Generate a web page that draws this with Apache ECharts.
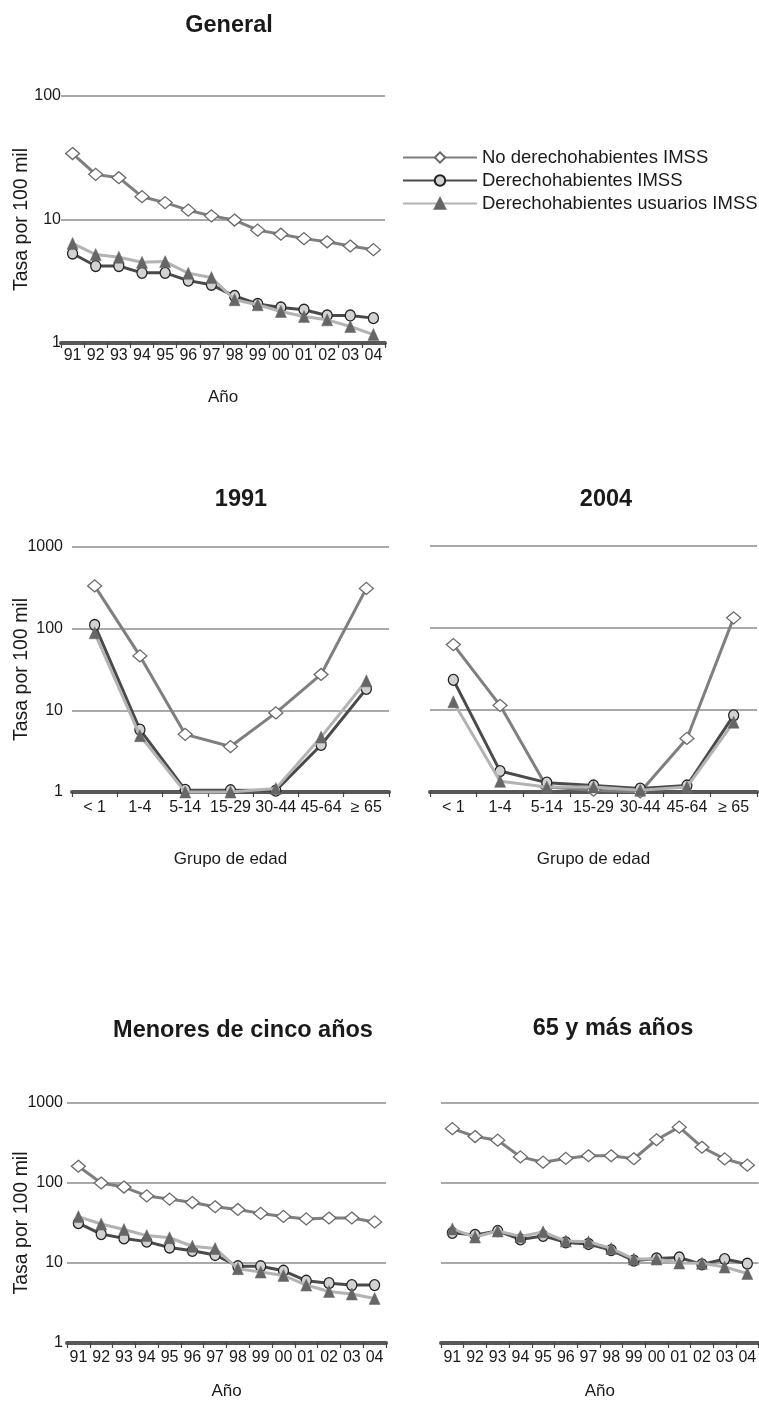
<!DOCTYPE html>
<html><head><meta charset="utf-8">
<script src="https://cdn.jsdelivr.net/npm/echarts@6/dist/echarts.min.js"></script>
<style>html,body{margin:0;padding:0;background:#fff}#c{width:759px;height:1401px}</style>
</head><body><div id="c"></div>
<script>
// ---------- DATA ----------
const seriesNames = ['No derechohabientes IMSS', 'Derechohabientes IMSS', 'Derechohabientes usuarios IMSS'];
const years = ['91','92','93','94','95','96','97','98','99','00','01','02','03','04'];
const ageGroups = ['< 1','1-4','5-14','15-29','30-44','45-64','\u2265 65'];

const generalNoDer   = [34.2, 23.2, 21.8, 15.3, 13.7, 11.9, 10.7, 9.9, 8.2, 7.6, 7.0, 6.6, 6.1, 5.7];
const generalDer     = [5.3, 4.2, 4.2, 3.7, 3.7, 3.2, 2.96, 2.4, 2.07, 1.94, 1.86, 1.67, 1.67, 1.59];
const generalUsu     = [6.4, 5.2, 4.95, 4.5, 4.56, 3.67, 3.39, 2.24, 2.04, 1.80, 1.64, 1.54, 1.36, 1.17];

const y1991NoDer     = [334, 46.4, 5.08, 3.6, 9.3, 27.5, 311];
const y1991Der       = [111, 5.8, 1.06, 1.05, 1.04, 3.77, 18.3];
const y1991Usu       = [89, 4.9, 1.0, 1.0, 1.1, 4.7, 23];

const y2004NoDer     = [62.8, 11.4, 1.15, 1.05, 1.0, 4.5, 133];
const y2004Der       = [23.3, 1.8, 1.3, 1.2, 1.1, 1.2, 8.6];
const y2004Usu       = [12.6, 1.35, 1.15, 1.15, 1.05, 1.15, 7.1];

const menoresNoDer   = [162, 100, 89, 69, 63, 57, 50.5, 46.7, 41.7, 38.2, 35.6, 36.5, 36.5, 32.6];
const menoresDer     = [31.5, 23, 20.3, 18.5, 15.6, 14.2, 12.6, 9.1, 9.1, 8.0, 6.0, 5.6, 5.3, 5.3];
const menoresUsu     = [38, 30.7, 26.2, 22, 20.7, 16.2, 15.2, 8.5, 7.7, 7.0, 5.3, 4.4, 4.1, 3.6];

const mayoresNoDer   = [478, 381, 343, 212, 182, 203, 219, 219, 201, 347, 499, 280, 200, 167];
const mayoresDer     = [23.8, 22.4, 25.1, 19.7, 21.8, 18.1, 17.3, 14.5, 10.7, 11.4, 11.7, 9.6, 11.2, 9.8];
const mayoresUsu     = [26.7, 21.1, 25.1, 21.5, 24.5, 18.8, 18.4, 15.2, 11.2, 11.2, 10.0, 9.9, 8.9, 7.4];

const panelTitles = ['General', '1991', '2004', 'Menores de cinco a\u00f1os', '65 y m\u00e1s a\u00f1os'];
const yAxisName = 'Tasa por 100 mil';
const xNameYear = 'A\u00f1o';
const xNameAge = 'Grupo de edad';

// ---------- LAYOUT ----------
const FONT = '"Liberation Sans", Arial, Helvetica, sans-serif';
const panels = [
  { title: panelTitles[0], tx: 224, ty: 9, grid: {left: 61, top: 96, width: 324, height: 247}, cats: years, data: [generalNoDer, generalDer, generalUsu], yMax: 100, yLabels: true, lblMargin: 0, nameGapY: 29, xName: xNameYear, xNameGap: 46, xLblMargin: 5 },
  { title: panelTitles[1], tx: 236, ty: 483, grid: {left: 72, top: 547, width: 317, height: 245}, cats: ageGroups, data: [y1991NoDer, y1991Der, y1991Usu], yMax: 1000, yLabels: true, lblMargin: 9, nameGapY: 40, xName: xNameAge, xNameGap: 59, xLblMargin: 8 },
  { title: panelTitles[2], tx: 601, ty: 483, grid: {left: 430, top: 546, width: 327, height: 246}, cats: ageGroups, data: [y2004NoDer, y2004Der, y2004Usu], yMax: 1000, yLabels: false, xName: xNameAge, xNameGap: 59, xLblMargin: 8 },
  { title: panelTitles[3], tx: 238, ty: 1014, grid: {left: 67, top: 1103, width: 319, height: 241}, cats: years, data: [menoresNoDer, menoresDer, menoresUsu], yMax: 1000, yLabels: true, lblMargin: 4, nameGapY: 35, xName: xNameYear, xNameGap: 40, xLblMargin: 7 },
  { title: panelTitles[4], tx: 608, ty: 1012, grid: {left: 441, top: 1103, width: 324, height: 241}, cats: years, data: [mayoresNoDer, mayoresDer, mayoresUsu], yMax: 1000, yLabels: false, xName: xNameYear, xNameGap: 40, xLblMargin: 7 }
];

const styles = [
  { color: '#7f7f7f', lineWidth: 3, symbol: 'diamond', symbolSize: [14, 12], item: {color: '#ffffff', borderColor: '#6a6a6a', borderWidth: 1.3} },
  { color: '#4a4a4a', lineWidth: 3, symbol: 'circle', symbolSize: [10, 11], item: {color: '#d2d2d2', borderColor: '#222222', borderWidth: 1.3} },
  { color: '#b3b3b3', lineWidth: 3, symbol: 'triangle', symbolSize: [11, 12], item: {color: '#666666', borderColor: '#666666', borderWidth: 0.5} }
];

const option = {
  animation: false,
  backgroundColor: '#ffffff',
  textStyle: { fontFamily: FONT },
  title: panels.map(p => ({
    text: p.title, left: p.tx, top: p.ty, textAlign: 'center',
    textStyle: { fontFamily: FONT, fontWeight: 'bold', fontSize: 23.5, color: '#1a1a1a' }
  })),
  legend: {
    left: 402, top: 148, orient: 'vertical', itemGap: 4, itemWidth: 74, itemHeight: 13, padding: 0,
    data: seriesNames,
    textStyle: { fontFamily: FONT, fontSize: 18.5, color: '#1a1a1a' }
  },
  grid: panels.map(p => Object.assign({ containLabel: false }, p.grid)),
  xAxis: panels.map((p, i) => ({
    type: 'category', gridIndex: i, data: p.cats, boundaryGap: true,
    name: p.xName, nameLocation: 'middle', nameGap: p.xNameGap, nameMoveOverlap: false,
    nameTextStyle: { fontFamily: FONT, fontSize: 17, color: '#1a1a1a' },
    axisLine: { show: true, lineStyle: { color: '#585858', width: 4 } },
    axisTick: { show: true, length: 5, lineStyle: { color: '#444', width: 1.2 } },
    axisLabel: { interval: 0, margin: p.xLblMargin, fontFamily: FONT, fontSize: 16, color: '#1a1a1a' },
    splitLine: { show: false }
  })),
  yAxis: panels.map((p, i) => ({
    type: 'log', logBase: 10, gridIndex: i, min: 1, max: p.yMax,
    name: p.yLabels ? yAxisName : '',
    nameLocation: 'middle', nameGap: p.nameGapY || 30, nameMoveOverlap: false,
    nameTextStyle: { fontFamily: FONT, fontSize: 19.5, color: '#1a1a1a' },
    axisLine: { show: false }, axisTick: { show: false },
    axisLabel: { show: p.yLabels, margin: p.lblMargin || 0, fontFamily: FONT, fontSize: 16, color: '#1a1a1a',
      formatter: v => String(Math.round(v)) },
    splitLine: { show: true, lineStyle: { color: '#a9a9a9', width: 2 } }
  })),
  series: []
};

panels.forEach((p, i) => {
  p.data.forEach((arr, k) => {
    const s = styles[k];
    option.series.push({
      type: 'line', name: seriesNames[k], xAxisIndex: i, yAxisIndex: i,
      data: arr, symbol: s.symbol, symbolSize: s.symbolSize, showSymbol: true,
      lineStyle: { color: s.color, width: s.lineWidth },
      itemStyle: s.item, color: s.color, z: 2 + k, clip: false
    });
  });
});

const chart = echarts.init(document.getElementById('c'), null, { renderer: 'canvas' });
chart.setOption(option);
</script>
</body></html>
